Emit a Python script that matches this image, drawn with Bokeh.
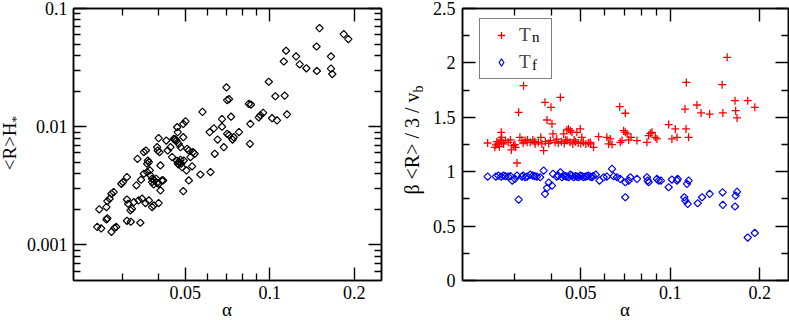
import math
from bokeh.plotting import figure
from bokeh.models import (FixedTicker, CustomJSTickFormatter, Legend, LegendItem,
                          Range1d, LogAxis, LinearAxis, Div)
from bokeh.layouts import row
from bokeh.embed import file_html
from bokeh.resources import INLINE

FONT = "Liberation Serif"

# ---------------- data ----------------
# left panel: (alpha, <R>H*)
left_points = [
    (0.0247, 0.00200), (0.0262, 0.00209), (0.0264, 0.00235), (0.0269, 0.00246), (0.0273, 0.00271),
    (0.0278, 0.00280), (0.0264, 0.00168), (0.0262, 0.00164), (0.0243, 0.00142), (0.0251, 0.00138),
    (0.0273, 0.00129), (0.0280, 0.00139), (0.0284, 0.00142),
    (0.0296, 0.00329), (0.0300, 0.00340), (0.0310, 0.00375), (0.0310, 0.00242), (0.0313, 0.00223),
    (0.0319, 0.00196), (0.0323, 0.00202), (0.0310, 0.00160), (0.0320, 0.00157), (0.0346, 0.00154),
    (0.0335, 0.00319), (0.0338, 0.00535), (0.0356, 0.00610), (0.0362, 0.00629),
    (0.0328, 0.00230), (0.0341, 0.00238), (0.0351, 0.00246), (0.0361, 0.00226), (0.0371, 0.00238),
    (0.0381, 0.00209), (0.0386, 0.00216), (0.0402, 0.00226),
    (0.0348, 0.00356), (0.0356, 0.00400), (0.0366, 0.00413), (0.0374, 0.00427), (0.0376, 0.00388),
    (0.0381, 0.00363), (0.0381, 0.00340), (0.0386, 0.00325), (0.0388, 0.00351), (0.0394, 0.00363),
    (0.0397, 0.00335), (0.0402, 0.00329),
    (0.0366, 0.00486), (0.0368, 0.00518), (0.0371, 0.00502), (0.0397, 0.00671), (0.0399, 0.00629),
    (0.0405, 0.00610), (0.0408, 0.00470), (0.0413, 0.00351), (0.0408, 0.00289), (0.0417, 0.00351),
    (0.0428, 0.00764), (0.0433, 0.00629), (0.0443, 0.00671), (0.0449, 0.00553), (0.0455, 0.00790),
    (0.0458, 0.00776), (0.0461, 0.00783), (0.0465, 0.00760), (0.0468, 0.00990), (0.0470, 0.00899),
    (0.0474, 0.00716), (0.0481, 0.00671), (0.0481, 0.00525), (0.0484, 0.00486), (0.0487, 0.00455),
    (0.0492, 0.00815), (0.0494, 0.00518), (0.0492, 0.01056), (0.0501, 0.01110), (0.0492, 0.00285),
    (0.0505, 0.00427), (0.0508, 0.00650), (0.0515, 0.00629), (0.0522, 0.00553), (0.0529, 0.00462),
    (0.0515, 0.00351), (0.0533, 0.00610), (0.0540, 0.00590),
    (0.0470, 0.00490), (0.0476, 0.00505), (0.0473, 0.00480), (0.0467, 0.00515), (0.0402, 0.00800),
    (0.0566, 0.00394), (0.0576, 0.01335), (0.0615, 0.00413), (0.0611, 0.00899), (0.0632, 0.00968),
    (0.0637, 0.00590), (0.0652, 0.00778), (0.0676, 0.01000), (0.0676, 0.01160), (0.0686, 0.00671),
    (0.0705, 0.00870), (0.0716, 0.00850), (0.0728, 0.01215), (0.0737, 0.00779), (0.0744, 0.00815),
    (0.0777, 0.00900), (0.0701, 0.0215), (0.0705, 0.0168), (0.0716, 0.0171),
    (0.0842, 0.0156), (0.0857, 0.0154), (0.0850, 0.00716), (0.0853, 0.01056), (0.0947, 0.0131),
    (0.0926, 0.0125), (0.0914, 0.0120), (0.0992, 0.0240), (0.1019, 0.0118), (0.1061, 0.0113),
    (0.1047, 0.0181), (0.1130, 0.0183), (0.1152, 0.0127),
    (0.1143, 0.0439), (0.1122, 0.0356), (0.1241, 0.0393), (0.1278, 0.0337), (0.1350, 0.0312),
    (0.1468, 0.0477), (0.1471, 0.0296), (0.1504, 0.0682), (0.1652, 0.0393), (0.1652, 0.0310),
    (0.1670, 0.0279), (0.1834, 0.0607), (0.1905, 0.0551),
]

# right panel, T_n series: (alpha, beta<R>/3/v_b)
tn_points = [
    (0.0243, 1.264), (0.0259, 1.246), (0.0261, 1.276), (0.0264, 1.255), (0.0268, 1.292),
    (0.0266, 1.230), (0.0270, 1.362), (0.0271, 1.264), (0.0275, 1.255), (0.0279, 1.286),
    (0.0271, 1.316), (0.0257, 1.224),
    (0.0292, 1.200), (0.0297, 1.240), (0.0300, 1.249), (0.0302, 1.224), (0.0305, 1.080),
    (0.0309, 1.546), (0.0312, 1.316), (0.0321, 1.791), (0.0317, 1.286),
    (0.0325, 1.286), (0.0331, 1.292), (0.0338, 1.270), (0.0345, 1.292), (0.0351, 1.255),
    (0.0360, 1.270), (0.0367, 1.316), (0.0370, 1.255), (0.0375, 1.194),
    (0.0379, 1.638), (0.0385, 1.475), (0.0397, 1.592), (0.0400, 1.439), (0.0403, 1.347),
    (0.0427, 1.683),
    (0.0438, 1.347), (0.0449, 1.384), (0.0455, 1.393), (0.0461, 1.377), (0.0467, 1.362),
    (0.0485, 1.362), (0.0498, 1.393), (0.0504, 1.316),
    (0.0410, 1.270), (0.0420, 1.264), (0.0430, 1.276), (0.0440, 1.260), (0.0450, 1.286),
    (0.0460, 1.270), (0.0470, 1.255), (0.0480, 1.276), (0.0490, 1.264), (0.0500, 1.260),
    (0.0510, 1.270), (0.0520, 1.255), (0.0530, 1.264), (0.0540, 1.255), (0.0350, 1.276),
    (0.0330, 1.270), (0.0320, 1.264), (0.0285, 1.270), (0.0290, 1.292), (0.0380, 1.276),
    (0.0390, 1.260), (0.0395, 1.286), (0.0415, 1.300), (0.0445, 1.292), (0.0475, 1.292),
    (0.0538, 1.270), (0.0552, 1.224), (0.0574, 1.322),
    (0.0612, 1.316), (0.0628, 1.301), (0.0620, 1.255), (0.0637, 1.249), (0.0676, 1.598),
    (0.0706, 1.537), (0.0697, 1.377), (0.0706, 1.362), (0.0716, 1.347), (0.0679, 1.270),
    (0.0688, 1.286), (0.0725, 1.292), (0.0738, 1.316), (0.0773, 1.286),
    (0.0835, 1.270), (0.0846, 1.332), (0.0857, 1.353), (0.0868, 1.362), (0.0891, 1.316),
    (0.0902, 1.301),
    (0.0988, 1.433), (0.1013, 1.301), (0.1040, 1.393), (0.1054, 1.316),
    (0.1121, 1.576), (0.1133, 1.821), (0.1130, 1.393), (0.1153, 1.316),
    (0.1230, 1.613), (0.1270, 1.540), (0.1357, 1.530),
    (0.1495, 1.800), (0.1503, 1.540), (0.1554, 2.051),
    (0.1652, 1.653), (0.1660, 1.561), (0.1678, 1.494),
    (0.1823, 1.653), (0.1925, 1.592),
]

# right panel, T_f series
tf_points = [
    (0.0243, 0.955), (0.0259, 0.955), (0.0264, 0.964), (0.0270, 0.955), (0.0275, 0.964),
    (0.0279, 0.958), (0.0285, 0.955), (0.0294, 0.918), (0.0300, 0.934), (0.0305, 0.964),
    (0.0309, 0.744), (0.0317, 0.955), (0.0325, 0.949), (0.0338, 0.973), (0.0345, 0.964),
    (0.0356, 0.955), (0.0365, 0.949),
    (0.0375, 1.010), (0.0379, 0.796), (0.0385, 0.851), (0.0390, 0.900), (0.0400, 0.872),
    (0.0403, 0.980), (0.0427, 0.995),
    (0.0438, 0.964), (0.0449, 0.955), (0.0461, 0.973), (0.0473, 0.949), (0.0485, 0.955),
    (0.0498, 0.964), (0.0511, 0.949), (0.0524, 0.958), (0.0538, 0.955), (0.0562, 0.973),
    (0.0578, 0.918),
    (0.0415, 0.955), (0.0420, 0.964), (0.0432, 0.949), (0.0444, 0.960), (0.0455, 0.949),
    (0.0467, 0.964), (0.0480, 0.960), (0.0492, 0.949), (0.0505, 0.960), (0.0518, 0.955),
    (0.0530, 0.964), (0.0545, 0.949), (0.0550, 0.960), (0.0350, 0.960), (0.0330, 0.955),
    (0.0320, 0.964), (0.0290, 0.960),
    (0.0597, 0.949), (0.0612, 0.955), (0.0637, 1.026), (0.0645, 0.958), (0.0662, 0.949),
    (0.0679, 0.934), (0.0706, 0.765), (0.0706, 0.903), (0.0725, 0.918), (0.0734, 0.949),
    (0.0773, 0.934),
    (0.0835, 0.949), (0.0840, 0.918), (0.0846, 0.903), (0.0902, 0.934), (0.0914, 0.918),
    (0.0930, 0.918),
    (0.0988, 0.857), (0.1013, 0.928), (0.1054, 0.918), (0.1059, 0.934),
    (0.1115, 0.765), (0.1124, 0.734), (0.1139, 0.888), (0.1153, 0.918), (0.1145, 0.704),
    (0.1237, 0.710), (0.1280, 0.765), (0.1357, 0.796),
    (0.1500, 0.810), (0.1503, 0.695), (0.1652, 0.680), (0.1660, 0.780), (0.1678, 0.815),
    (0.1823, 0.395), (0.1925, 0.437),
]

alpha_left = [a for a, _ in left_points]
rh_left = [v for _, v in left_points]
alpha_tn = [a for a, _ in tn_points]
tn_vals = [v for _, v in tn_points]
alpha_tf = [a for a, _ in tf_points]
tf_vals = [v for _, v in tf_points]

x_range_vals = (0.02, 0.25)
x_major = [0.05, 0.1, 0.2]
x_minor = [0.03, 0.04, 0.06, 0.07, 0.08, 0.09]
y1_range_vals = (0.0005, 0.1)
y1_major = [0.001, 0.01, 0.1]
y1_minor = [0.0006, 0.0007, 0.0008, 0.0009,
            0.002, 0.003, 0.004, 0.005, 0.006, 0.007, 0.008, 0.009,
            0.02, 0.03, 0.04, 0.05, 0.06, 0.07, 0.08, 0.09]
y2_range_vals = (0.0, 2.5)
y2_major = [0.0, 0.5, 1.0, 1.5, 2.0, 2.5]
y2_minor = [0.25, 0.75, 1.25, 1.75, 2.25]

FMT = "return String(tick);"


def style_axis(ax, major, minor, labels):
    ax.ticker = FixedTicker(ticks=major, minor_ticks=minor)
    ax.major_tick_in = 13
    ax.major_tick_out = 0
    ax.minor_tick_in = 7
    ax.minor_tick_out = 0
    ax.major_tick_line_width = 1.4
    ax.minor_tick_line_width = 1.3
    ax.major_tick_line_color = "black"
    ax.minor_tick_line_color = "black"
    ax.axis_line_width = 1.5
    ax.axis_line_color = "black"
    ax.axis_label = None
    if labels:
        ax.formatter = CustomJSTickFormatter(code=FMT)
        ax.major_label_text_font = FONT
        ax.major_label_text_font_size = "18px"
        ax.major_label_text_color = "black"
    else:
        ax.major_label_text_color = None
        ax.major_label_text_font_size = "1px"
        ax.major_label_standoff = 0


def make_fig(width, left, right, y_type, y_range):
    p = figure(width=width, height=320, x_axis_type="log", y_axis_type=y_type,
               x_range=Range1d(*x_range_vals), y_range=Range1d(*y_range),
               output_backend="svg", toolbar_location=None,
               min_border_left=left, min_border_right=right,
               min_border_top=8, min_border_bottom=40)
    p.xgrid.visible = False
    p.ygrid.visible = False
    p.outline_line_color = "black"
    p.outline_line_width = 1.5
    p.background_fill_color = "white"
    p.border_fill_color = "white"
    return p


def text_div(html, cx, cy, w, h, size, rotate=False, align="center"):
    """A piece of real HTML text, centred at page position (cx, cy)."""
    styles = {"position": "absolute", "left": f"{cx - w / 2:.1f}px", "top": f"{cy - h / 2:.1f}px",
              "width": f"{w}px", "height": f"{h}px", "margin": "0px", "padding": "0px",
              "pointer-events": "none"}
    if rotate:
        styles["transform"] = "rotate(-90deg)"
        styles["transform-origin"] = "50% 50%"
    inner = (f'<div style="width:{w}px;height:{h}px;line-height:{h}px;text-align:{align};'
             f"font-family:'{FONT}',serif;font-size:{size}px;color:#000;white-space:nowrap;"
             f'margin:0;padding:0">{html}</div>')
    return Div(text=inner, width=w, height=h, margin=0, styles=styles)


SUB = '<span style="font-size:0.7em;line-height:0;vertical-align:-0.3em">{}</span>'

# ---------------- left panel ----------------
p1 = make_fig(390, 73, 9, "log", y1_range_vals)
style_axis(p1.xaxis[0], x_major, x_minor, True)
style_axis(p1.yaxis[0], y1_major, y1_minor, True)
p1.xaxis[0].major_label_standoff = 5
p1.yaxis[0].major_label_standoff = 6
top1 = LogAxis()
right1 = LogAxis()
style_axis(top1, x_major, x_minor, False)
style_axis(right1, y1_major, y1_minor, False)
p1.add_layout(top1, "above")
p1.add_layout(right1, "right")

p1.scatter(alpha_left, rh_left, marker="square", angle=math.pi / 4, size=5.2,
           fill_color=None, line_color="black", line_width=1.2)

# ---------------- right panel ----------------
p2 = make_fig(399, 72, 1, "linear", y2_range_vals)
style_axis(p2.xaxis[0], x_major, x_minor, True)
style_axis(p2.yaxis[0], y2_major, y2_minor, True)
p2.xaxis[0].major_label_standoff = 5
p2.yaxis[0].major_label_standoff = 7
top2 = LogAxis()
right2 = LinearAxis()
style_axis(top2, x_major, x_minor, False)
style_axis(right2, y2_major, y2_minor, False)
p2.add_layout(top2, "above")
p2.add_layout(right2, "right")

r_tn = p2.scatter(alpha_tn, tn_vals, marker="cross", size=8, line_color="red", line_width=1.3)
r_tf = p2.scatter(alpha_tf, tf_vals, marker="square", angle=math.pi / 4, size=5.2,
                  fill_color=None, line_color="blue", line_width=1.2)
# legend proxy for T_f: same data, hidden in the frame, drawn as a diamond in the legend
r_tf_leg = p2.scatter(alpha_tf, tf_vals, marker="diamond", fill_color=None,
                      line_color="blue", line_width=1.2, visible=False)

legend = Legend(items=[LegendItem(label="T", renderers=[r_tn]),
                       LegendItem(label="T", renderers=[r_tf_leg])],
                location=(17, 201), padding=5, spacing=5, margin=0, click_policy="none",
                inactive_fill_alpha=0.0,
                glyph_width=32, glyph_height=18, label_standoff=2, label_width=27, label_height=20,
                label_text_font=FONT, label_text_font_size="19px",
                border_line_color="black", border_line_width=1.5,
                background_fill_color="white", background_fill_alpha=1.0)
p2.add_layout(legend)

layout = row(p1, p2, styles={"position": "absolute", "left": "0px", "top": "0px"})

# ---------------- free texts (axis titles, subscripts) ----------------
texts = [
    text_div("\u03b1", 227, 310, 30, 18, 19),
    text_div("\u03b1", 625, 310, 30, 18, 19),
    text_div("&lt;R&gt;H" + SUB.format("*"), 10.3, 143, 80, 24, 19, rotate=True),
    text_div("\u03b2 &lt;R&gt; / 3 / v" + SUB.format("b"), 411.8, 140, 130, 24, 20, rotate=True),
    text_div("n", 540, 37, 16, 16, 15, align="left"),
    text_div("f", 540, 65.3, 16, 16, 15, align="left"),
]

open("out.html", "w").write(file_html([layout] + texts, INLINE))
